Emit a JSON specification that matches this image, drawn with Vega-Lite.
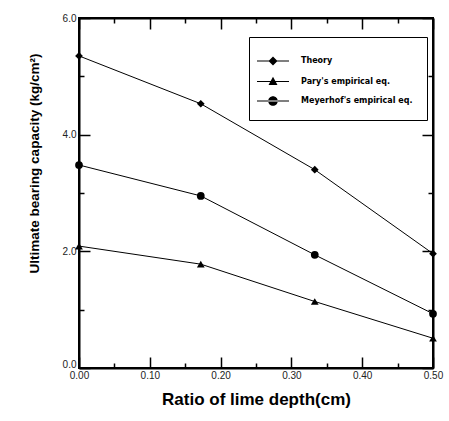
{
  "$schema": "https://vega.github.io/schema/vega-lite/v6.json",
  "autosize": "none",
  "width": 354,
  "height": 350,
  "padding": {"left": 79, "top": 18, "right": 16, "bottom": 53},
  "background": "white",
  "config": {
    "view": {"stroke": "black", "strokeWidth": 2},
    "font": "Liberation Sans",
    "axis": {"domainColor": "black", "domainWidth": 2, "tickColor": "black", "tickWidth": 1.5, "grid": false, "labelFont": "Liberation Sans", "labelColor": "#222", "labelFontSize": 10, "titleFont": "Liberation Sans", "titleFontWeight": "bold", "titleColor": "black"}
  },
  "data": {"values": [
    {"ratio": 0, "capacity": 5.35, "series": "Theory"},
    {"ratio": 0.172, "capacity": 4.53, "series": "Theory"},
    {"ratio": 0.333, "capacity": 3.40, "series": "Theory"},
    {"ratio": 0.5, "capacity": 1.96, "series": "Theory"},
    {"ratio": 0, "capacity": 2.09, "series": "Pary's empirical eq."},
    {"ratio": 0.172, "capacity": 1.78, "series": "Pary's empirical eq."},
    {"ratio": 0.333, "capacity": 1.14, "series": "Pary's empirical eq."},
    {"ratio": 0.5, "capacity": 0.51, "series": "Pary's empirical eq."},
    {"ratio": 0, "capacity": 3.48, "series": "Meyerhof's empirical eq."},
    {"ratio": 0.172, "capacity": 2.95, "series": "Meyerhof's empirical eq."},
    {"ratio": 0.333, "capacity": 1.94, "series": "Meyerhof's empirical eq."},
    {"ratio": 0.5, "capacity": 0.93, "series": "Meyerhof's empirical eq."}
  ]},
  "layer": [
    {
      "mark": {"type": "line", "color": "black", "strokeWidth": 1},
      "encoding": {
        "x": {"field": "ratio", "type": "quantitative", "scale": {"domain": [0, 0.5], "nice": false},
          "axis": {"orient": "bottom", "title": "Ratio of lime depth(cm)", "titleFontSize": 17, "values": [0,0.05,0.1,0.15,0.2,0.25,0.3,0.35,0.4,0.45,0.5],
            "labelExpr": "round(datum.value*100) % 10 === 0 ? format(datum.value, '.2f') : ''",
            "tickSize": {"condition": {"test": "round(datum.value*100) % 10 === 0", "value": -11}, "value": -5},
            "labelPadding": 13, "titlePadding": 11, "labelFlush": false}},
        "y": {"field": "capacity", "type": "quantitative", "scale": {"domain": [0, 6], "nice": false},
          "axis": {"orient": "left", "title": "Ultimate bearing capacity  (kg/cm²)", "titleFontSize": 13.5, "titleY": 145, "values": [0,1,2,3,4,5,6],
            "labelExpr": "datum.value % 2 === 0 ? format(datum.value, '.1f') : ''",
            "labelOffset": {"condition": {"test": "datum.value === 0", "value": -4}, "value": 0},
            "tickSize": {"condition": {"test": "datum.value % 2 === 0", "value": -11}, "value": -5},
            "labelPadding": 14, "titlePadding": 21, "labelFlush": false}},
        "detail": {"field": "series"}
      }
    },
    {
      "mark": {"type": "point", "filled": true, "color": "black", "opacity": 1, "size": 60},
      "encoding": {
        "x": {"field": "ratio", "type": "quantitative",
          "axis": {"orient": "top", "title": null, "labels": false, "values": [0,0.05,0.1,0.15,0.2,0.25,0.3,0.35,0.4,0.45,0.5],
            "tickSize": {"condition": {"test": "round(datum.value*100) % 10 === 0", "value": -11}, "value": -5}}},
        "y": {"field": "capacity", "type": "quantitative",
          "axis": {"orient": "right", "title": null, "labels": false, "values": [0,1,2,3,4,5,6],
            "tickSize": {"condition": {"test": "datum.value % 2 === 0", "value": -11}, "value": -5}}},
        "shape": {"field": "series", "type": "nominal",
          "scale": {"domain": ["Theory", "Pary's empirical eq.", "Meyerhof's empirical eq."], "range": ["diamond", "triangle-up", "circle"]},
          "legend": null}
      }
    },
    {
      "transform": [{"filter": "datum.series === 'none'"}],
      "mark": {"type": "point", "filled": true, "color": "black", "opacity": 1},
      "encoding": {
        "x": {"field": "ratio", "type": "quantitative", "axis": null},
        "y": {"field": "capacity", "type": "quantitative", "axis": null},
        "shape": {"field": "series", "type": "nominal",
          "scale": {"domain": ["Theory", "Pary's empirical eq.", "Meyerhof's empirical eq."],
            "range": ["M-1.6,-0.06H1.6V0.06H-1.6ZM0,-0.45L0.45,0L0,0.45L-0.45,0Z", "M-1.6,-0.06H1.6V0.06H-1.6ZM0,-0.48L0.45,0.36L-0.45,0.36Z", "M-1.6,-0.06H1.6V0.06H-1.6ZM-0.48,0A0.48,0.48 0 1,0 0.48,0A0.48,0.48 0 1,0 -0.48,0Z"]},
          "legend": {"title": null, "orient": "none", "legendX": 170, "legendY": 19,
            "strokeColor": "black", "fillColor": "white", "padding": 14,
            "labelFont": "DejaVu Sans", "labelFontWeight": "bold", "labelFontSize": 8, "labelColor": "black",
            "symbolSize": 400, "symbolFillColor": "black", "symbolStrokeColor": "black", "symbolStrokeWidth": 0, "symbolOpacity": 1,
            "labelOffset": 18, "rowPadding": 5.5}
        }
      }
    }
  ],
  "resolve": {"axis": {"x": "independent", "y": "independent"}, "scale": {"shape": "independent"}, "legend": {"shape": "independent"}}
}
